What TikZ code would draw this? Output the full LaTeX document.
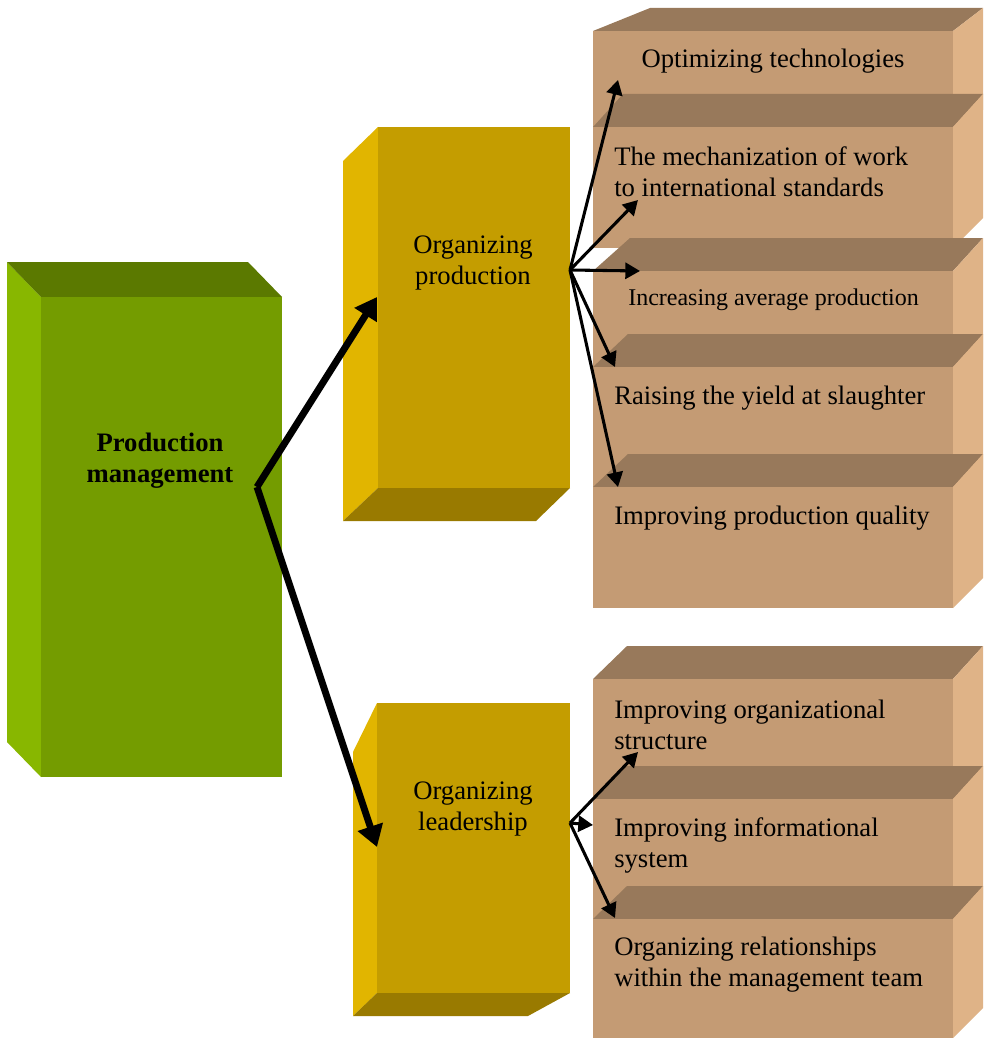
\documentclass[tikz,border=0pt]{standalone}
\usepackage{fontspec}
\setmainfont{Liberation Serif}
\usetikzlibrary{arrows.meta,fit}

\definecolor{greenfront}{HTML}{749C00}
\definecolor{greenside}{HTML}{88B700}
\definecolor{greentop}{HTML}{5B7900}
\definecolor{goldfront}{HTML}{C49D00}
\definecolor{goldside}{HTML}{E1B500}
\definecolor{goldbottom}{HTML}{997A00}
\definecolor{tanfront}{HTML}{C49B74}
\definecolor{tantop}{HTML}{98795B}
\definecolor{tanside}{HTML}{DFB387}

\tikzset{
  face/.style={inner sep=0pt,outer sep=0pt},
  bigtext/.style={font=\fontsize{20}{23.25}\selectfont,align=left,inner sep=0pt},
  midtext/.style={font=\fontsize{20}{23.25}\selectfont,align=center,inner sep=0pt},
  thickarrow/.style={line width=5.2pt,-{Triangle[length=16pt,width=19pt]}},
  thinarrow/.style={line width=2.3pt,-{Triangle[length=11pt,width=12pt]}}
}

\begin{document}
\begin{tikzpicture}[x=0.75pt,y=-0.75pt]
\useasboundingbox (0,0) rectangle (983,1038);

% ------------------------------------------------------------------
% Production management (green block)
% ------------------------------------------------------------------
\fill[greenside] (7,262) -- (41,297) -- (41,777) -- (7,742) -- cycle;
\fill[greentop]  (7,262) -- (248,262) -- (282,297) -- (41,297) -- cycle;
\node[face,fill=greenfront,fit={(41,297) (282,777)}] (pm) {};
\node[midtext,font=\fontsize{20}{23.25}\selectfont\bfseries] (pmtext) at (160,461)
  {Production\\management};

% ------------------------------------------------------------------
% Organizing production / organizing leadership (gold blocks)
% ------------------------------------------------------------------
\fill[goldside]   (343,161) -- (378,127) -- (378,488) -- (343,521) -- cycle;
\fill[goldbottom] (378,488) -- (570,488) -- (536,521) -- (343,521) -- cycle;
\node[face,fill=goldfront,fit={(378,127) (570,488)}] (op) {};
\node[midtext] (optext) at (473,263) {Organizing\\production};

\fill[goldside]   (353,752) -- (377,703) -- (377,993) -- (353,1016) -- cycle;
\fill[goldbottom] (377,993) -- (570,993) -- (528,1016) -- (353,1016) -- cycle;
\node[face,fill=goldfront,fit={(377,703) (570,993)}] (ol) {};
\node[midtext] (oltext) at (473,809) {Organizing\\leadership};

% ------------------------------------------------------------------
% Tasks (tan blocks, stacked from top to bottom)
% ------------------------------------------------------------------
\foreach \n/\ft/\bk/\bx/\fb in {1/31/8/650/140, 2/127/94/623/248,
    3/271/238/630/390, 4/367/334/628/500, 5/487/454/628/608,
    6/679/646/627/810, 7/799/766/627/930, 8/919/886/627/1038} {
  \fill[tantop]  (593,\ft) -- (\bx,\bk) -- (983,\bk) -- (953,\ft) -- cycle;
  \fill[tanside] (953,\ft) -- (983,\bk) -- (983,\fb-30) -- (953,\fb) -- cycle;
  \node[face,fill=tanfront,fit={(593,\ft) (953,\fb)}] (task\n) {};
}

\node[bigtext] (t1) at (773,61) {Optimizing technologies};
\node[bigtext,anchor=west] (t2) at (614,172)
  {The mechanization of work\\to international standards};
\node[bigtext,anchor=west,font=\fontsize{18}{21}\selectfont] (t3) at (628,300)
  {Increasing average production};
\node[bigtext,anchor=west] (t4) at (614,398) {Raising the yield at slaughter};
\node[bigtext,anchor=west] (t5) at (614,518) {Improving production quality};
\node[bigtext,anchor=west] (t6) at (614,725)
  {Improving organizational\\structure};
\node[bigtext,anchor=west] (t7) at (614,845)
  {Improving informational\\system};
\node[bigtext,anchor=west] (t8) at (614,965)
  {Organizing relationships\\within the management team};

% ------------------------------------------------------------------
% Connection points
% ------------------------------------------------------------------
\coordinate (pm-out) at (257,487);
\coordinate (op-in)  at (377,297);
\coordinate (ol-in)  at (377,847);
\coordinate (op-out) at (570,270);
\coordinate (ol-out) at (570,823);
\coordinate (task1-in) at (618,80);
\coordinate (task2-in) at (638,200);
\coordinate (task3-in) at (640,271);
\coordinate (task4-in) at (615,367);
\coordinate (task5-in) at (618,487);
\coordinate (task6-in) at (638,752);
\coordinate (task7-in) at (593,825);
\coordinate (task8-in) at (615,918);

% ------------------------------------------------------------------
% Arrows
% ------------------------------------------------------------------
\draw[thickarrow] (pm-out) -- (op-in);
\draw[thickarrow] (pm-out) -- (ol-in);

\foreach \n in {1,...,5}
  \draw[thinarrow] (op-out) -- (task\n-in);
\foreach \n in {6,7,8}
  \draw[thinarrow] (ol-out) -- (task\n-in);

\end{tikzpicture}
\end{document}
